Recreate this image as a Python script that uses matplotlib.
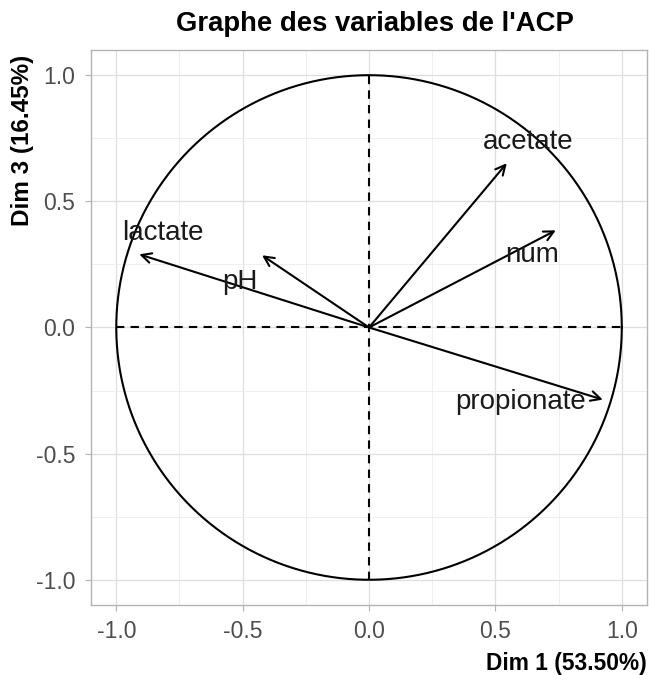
import numpy as np
import matplotlib.pyplot as plt

plt.rcParams['font.family'] = ['Liberation Sans', 'DejaVu Sans']

# correlations of the variables with dimensions 1 and 3
variables = ["acetate", "num", "lactate", "pH", "propionate"]
dim1 = [0.545, 0.739, -0.909, -0.423, 0.925]
dim3 = [0.651, 0.385, 0.290, 0.286, -0.286]
# label anchor positions
label_x = [0.63, 0.645, -0.814, -0.51, 0.60]
label_y = [0.734, 0.286, 0.373, 0.18, -0.294]

fig = plt.figure(figsize=(6.49, 6.75), dpi=100)
ax = fig.add_axes([0.1402, 0.1037, 0.8568, 0.8223])

ax.set_xlim(-1.1, 1.1)
ax.set_ylim(-1.1, 1.1)

ticks = [-1.0, -0.5, 0.0, 0.5, 1.0]
ax.set_xticks(ticks)
ax.set_yticks(ticks)
ax.set_xticklabels([f"{t:.1f}" for t in ticks])
ax.set_yticklabels([f"{t:.1f}" for t in ticks])
ax.set_xticks(np.arange(-1.0, 1.01, 0.25), minor=True)
ax.set_yticks(np.arange(-1.0, 1.01, 0.25), minor=True)
ax.tick_params(which="major", length=4.5, color="#b3b3b3", labelcolor="#4d4d4d", labelsize=16.5)
ax.tick_params(axis="x", which="major", pad=6.5)
ax.tick_params(axis="y", which="major", pad=7)
ax.tick_params(which="minor", length=0)
ax.grid(which="major", color="#dedede", lw=0.9)
ax.grid(which="minor", color="#ececec", lw=0.6)
ax.set_axisbelow(True)
for s in ax.spines.values():
    s.set_color("#b3b3b3")
    s.set_linewidth(1.0)

# unit circle and axes through origin
theta = np.linspace(0, 2 * np.pi, 400)
ax.plot(np.cos(theta), np.sin(theta), color="black", lw=1.5)
ax.plot([-1, 1], [0, 0], color="black", lw=1.5, ls=(0, (4, 3)))
ax.plot([0, 0], [-1, 1], color="black", lw=1.5, ls=(0, (4, 3)))

for name, x, y, lx, ly in zip(variables, dim1, dim3, label_x, label_y):
    ax.annotate("", xy=(x, y), xytext=(0, 0),
                arrowprops=dict(arrowstyle="->,head_length=0.7,head_width=0.35",
                                lw=1.5, color="black", shrinkA=0, shrinkB=0))
    ax.text(lx, ly, name, ha="center", va="center", fontsize=20, color="#1a1a1a")

fig.text(0.577, 0.964, "Graphe des variables de l'ACP", ha="center", va="center",
         fontsize=19.8, fontweight="bold")
ax.set_xlabel("Dim 1 (53.50%)", fontsize=16.4, fontweight="bold", loc="right", labelpad=6)
fig.text(0.035, 1 - 55 / 675, "Dim 3 (16.45%)", rotation=90, ha="center", va="top",
         fontsize=17.5, fontweight="bold")

fig.savefig("out.png", dpi=100)
